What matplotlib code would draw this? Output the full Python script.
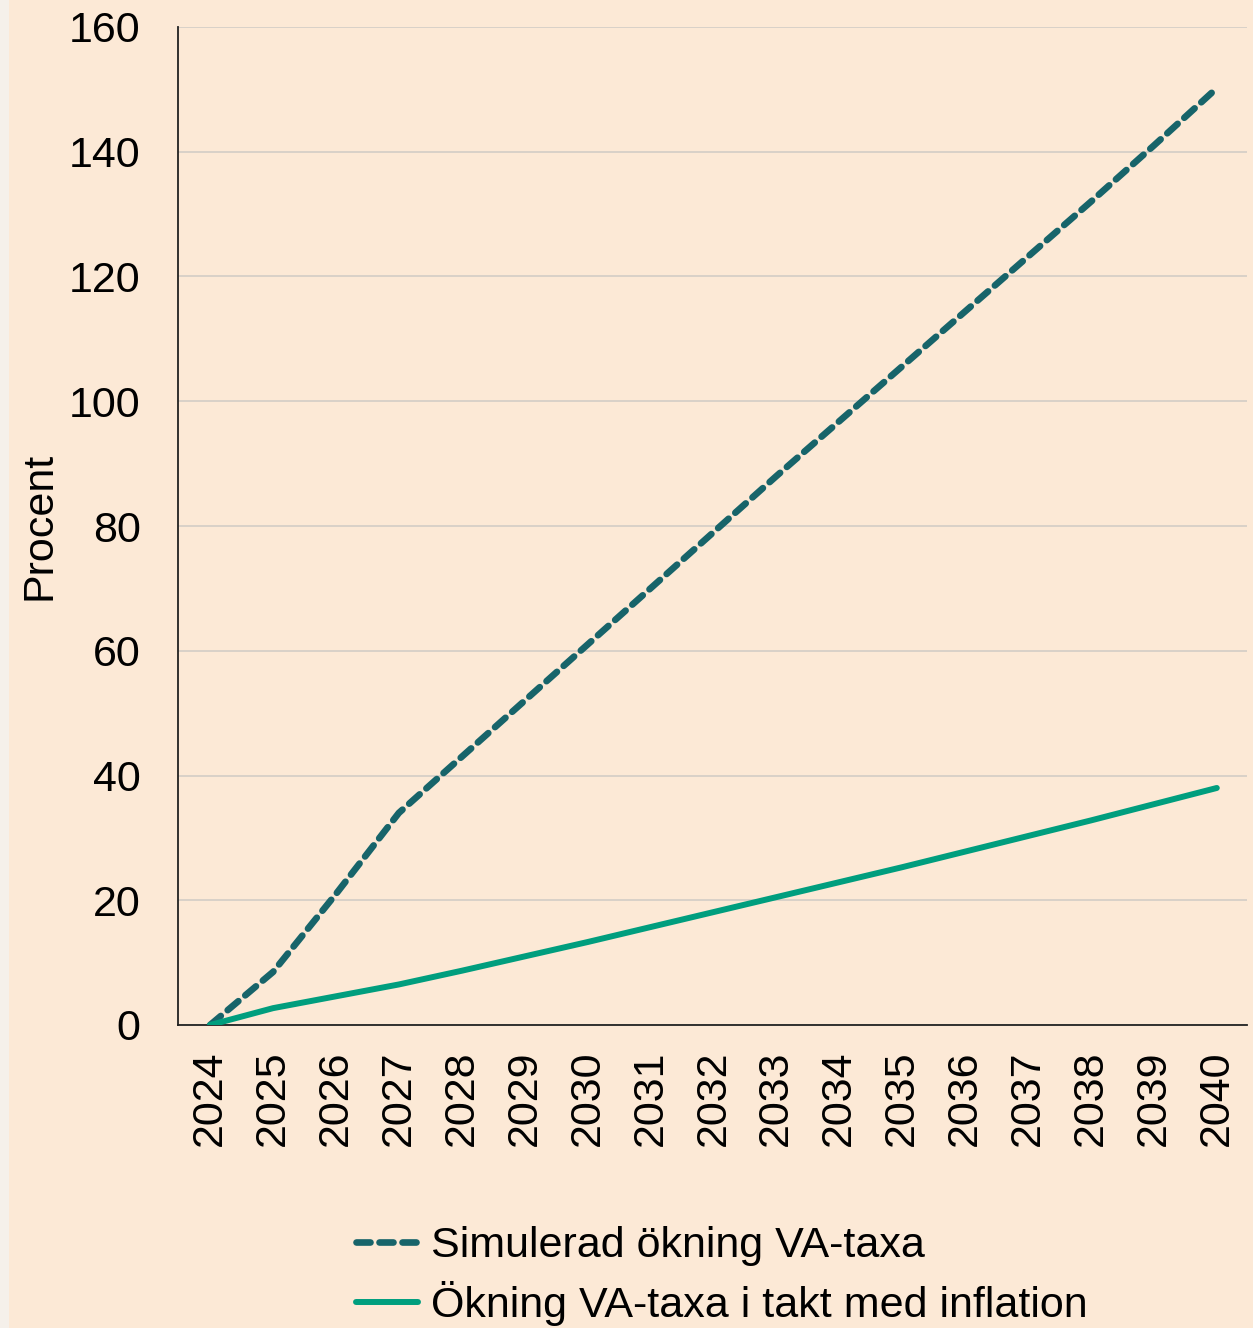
import matplotlib
matplotlib.use('Agg')
import matplotlib.pyplot as plt
from matplotlib.patches import Rectangle

# Colours
BG = '#fce9d6'
STRIP = '#f5f0ea'
GRID = '#d3cdc6'
DARK_TEAL = '#17646a'
GREEN = '#009e7e'

years = list(range(2024, 2041))
simulated = [0, 8.5, 21.0, 34.0, 43.0, 52.0, 61.0, 70.0, 79.0, 88.0,
             96.8, 105.6, 114.4, 123.2, 132.0, 141.0, 150.2]
inflation = [0, 2.7, 4.6, 6.5, 8.7, 11.0, 13.3, 15.7, 18.1, 20.5,
             22.9, 25.3, 27.8, 30.3, 32.8, 35.4, 38.0]
yticks = [0, 20, 40, 60, 80, 100, 120, 140, 160]

plt.rcParams['font.family'] = ['Liberation Sans', 'DejaVu Sans']
FS = 31

fig = plt.figure(figsize=(12.53, 13.28), dpi=100)
fig.set_facecolor(BG)
fig.patches.append(Rectangle((0, 0), 9 / 1253, 1, transform=fig.transFigure,
                             facecolor=STRIP, edgecolor='none', zorder=0))

ax = fig.add_axes([178 / 1253, 1 - 1025 / 1328, 1069 / 1253, 998 / 1328])
ax.set_facecolor(BG)

ax.plot(years, simulated, color=DARK_TEAL, linewidth=4.8, linestyle=(0, (2.1, 1.35)),
        dash_capstyle='round', solid_capstyle='round', label='Simulerad ökning VA-taxa',
        zorder=3)
ax.plot(years, inflation, color=GREEN, linewidth=4.3, solid_capstyle='round',
        label='Ökning VA-taxa i takt med inflation', zorder=3)

ax.set_xlim(2023.49, 2040.48)
ax.set_ylim(0, 160)
ax.set_yticks(yticks)
ax.set_xticks(years)
ax.set_xticklabels([str(y) for y in years], rotation=90, va='top')
ax.tick_params(axis='both', length=0, labelsize=FS, colors='black')
ax.tick_params(axis='y', pad=27)
ax.tick_params(axis='x', pad=18)

ax.grid(axis='y', color=GRID, linewidth=1.2)
ax.set_axisbelow(True)
for side in ['top', 'right']:
    ax.spines[side].set_visible(False)
ax.spines['left'].set_color('#222222')
ax.spines['bottom'].set_color('#222222')
ax.spines['left'].set_linewidth(1.3)
ax.spines['bottom'].set_linewidth(1.3)

ax.set_ylabel('Procent', fontsize=FS)
ax.yaxis.set_label_coords(-119 / 1069, 0.5)

leg = fig.legend(loc='center', bbox_to_anchor=(722 / 1253, 1 - 1276 / 1328),
                 frameon=False, ncol=1, handlelength=1.45, handletextpad=0.3,
                 labelspacing=0.35, fontsize=FS)

fig.savefig('out.png', dpi=100, facecolor=BG)
